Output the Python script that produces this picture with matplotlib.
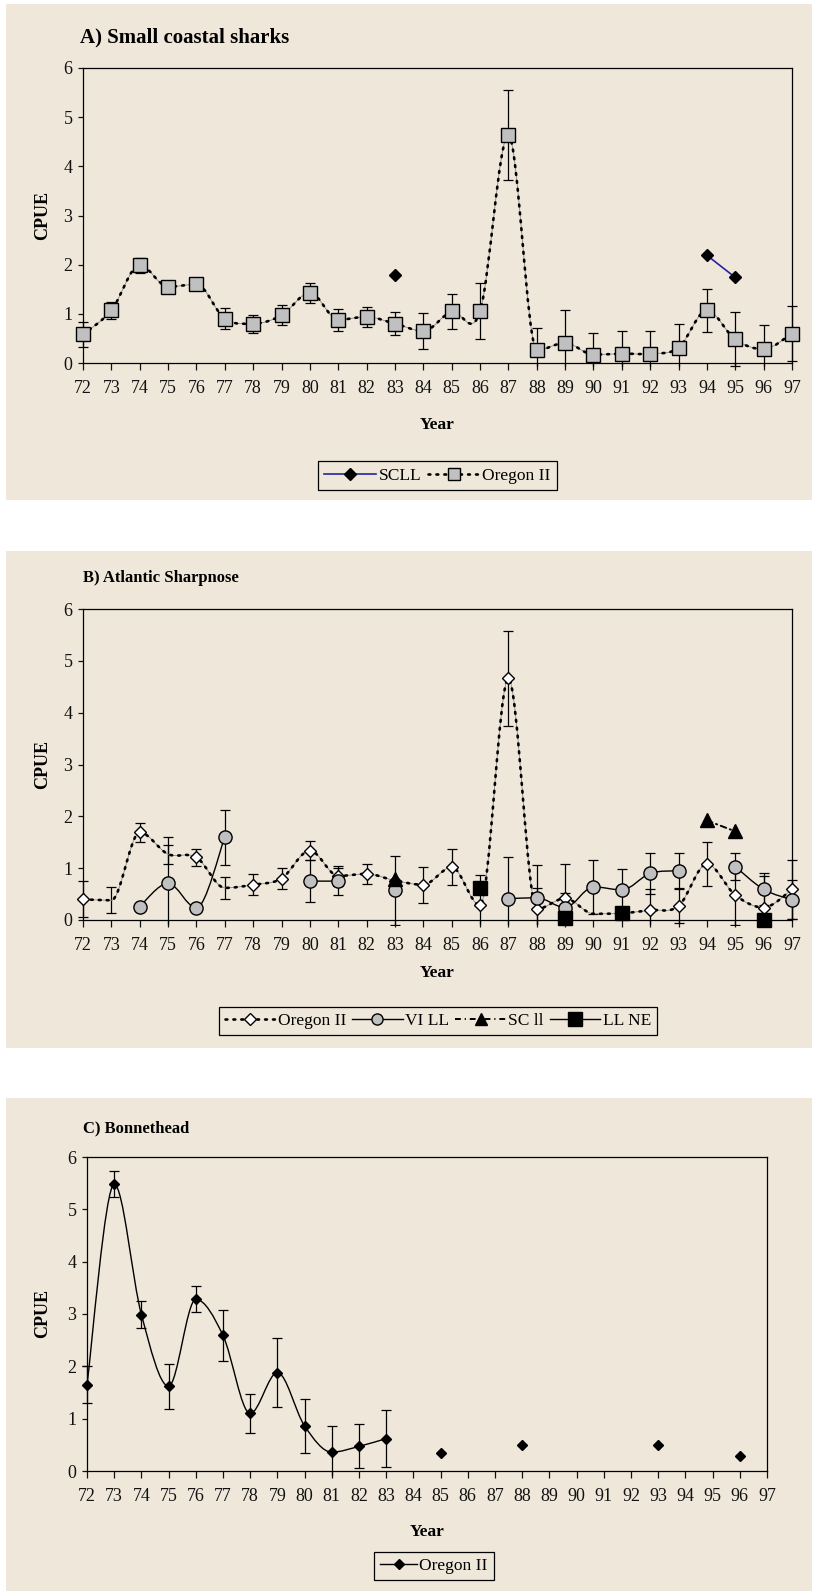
import numpy as np
import matplotlib
matplotlib.use("Agg")
import matplotlib.pyplot as plt
from matplotlib.lines import Line2D
from matplotlib.patches import Rectangle, PathPatch
from matplotlib.path import Path
from matplotlib.transforms import Bbox, TransformedBbox

nan = np.nan

# ---------------- data ----------------
years = list(range(72, 98))
year_labels = [str(y) for y in years]
cpue_ticks = [0, 1, 2, 3, 4, 5, 6]

# Panel A: Small coastal sharks
a_oregon = [0.58, 1.07, 1.99, 1.55, 1.60, 0.90, 0.80, 0.97, 1.43, 0.88, 0.94, 0.80, 0.65,
            1.05, 1.05, 4.64, 0.26, 0.41, 0.17, 0.19, 0.19, 0.31, 1.07, 0.48, 0.28, 0.60]
a_oregon_err = [0.25, 0.18, 0.15, 0.10, 0.05, 0.21, 0.18, 0.20, 0.20, 0.22, 0.20, 0.23, 0.36,
                0.35, 0.57, 0.92, 0.45, 0.66, 0.45, 0.46, 0.46, 0.49, 0.43, 0.55, 0.49, 0.55]
a_scll = [nan, nan, nan, nan, nan, nan, nan, nan, nan, nan, nan, 1.79, nan,
          nan, nan, nan, nan, nan, nan, nan, nan, nan, 2.19, 1.74, nan, nan]

# Panel B: Atlantic Sharpnose
b_oregon = [0.40, 0.38, 1.69, 1.27, 1.21, 0.62, 0.68, 0.80, 1.34, 0.85, 0.89, 0.76, 0.68,
            1.02, 0.28, 4.66, 0.21, 0.42, 0.12, 0.13, 0.19, 0.27, 1.08, 0.48, 0.24, 0.59]
b_oregon_err = [0.35, 0.25, 0.19, 0.18, 0.16, 0.21, 0.20, 0.20, 0.18, 0.20, 0.20, nan, 0.35,
                0.35, 0.58, 0.92, 0.40, 0.67, nan, 0.05, 0.40, 0.32, 0.42, 0.58, 0.61, 0.57]
b_oregon_no_marker = [73, 75, 77, 90]
b_vill = [nan, nan, 0.26, 0.71, 0.23, 1.60, nan, nan, 0.75, 0.75, nan, 0.57, nan,
          nan, nan, 0.41, 0.43, 0.24, 0.64, 0.58, 0.90, 0.95, nan, 1.03, 0.59, 0.39]
b_vill_err = [nan, nan, nan, 0.89, nan, 0.53, nan, nan, 0.41, 0.26, nan, 0.66, nan,
              nan, nan, 0.80, 0.63, 0.29, 0.52, 0.40, 0.40, 0.34, nan, 0.26, 0.31, 0.38]
b_scll = [nan, nan, nan, nan, nan, nan, nan, nan, nan, nan, nan, 0.80, nan,
          nan, nan, nan, nan, nan, nan, nan, nan, nan, 1.92, 1.71, nan, nan]
b_llne = [nan, nan, nan, nan, nan, nan, nan, nan, nan, nan, nan, nan, nan,
          nan, 0.61, nan, nan, 0.03, nan, 0.13, nan, nan, nan, nan, 0.00, nan]

# Panel C: Bonnethead
c_oregon = [1.65, 5.48, 2.99, 1.62, 3.28, 2.59, 1.10, 1.88, 0.86, 0.36, 0.47, 0.62, nan,
            0.34, nan, nan, 0.49, nan, nan, nan, nan, 0.49, nan, nan, 0.29, nan]
c_oregon_err = [0.35, 0.25, 0.25, 0.43, 0.25, 0.49, 0.38, 0.66, 0.51, 0.50, 0.42, 0.55, nan,
                nan, nan, nan, nan, nan, nan, nan, nan, nan, nan, nan, nan, nan]

# ---------------- style ----------------
BEIGE = "#EFE7DA"
GRAY = "#C0C0C0"
NAVY = "#2424A0"
plt.rcParams["font.family"] = ["Liberation Serif", "DejaVu Serif"]
plt.rcParams["axes.linewidth"] = 0.9

W, H = 814, 1591
fig = plt.figure(figsize=(W / 100, H / 100), dpi=100)
fig.patch.set_facecolor("white")

for (top, bot) in [(4, 500), (551, 1048), (1098, 1591)]:
    fig.patches.append(Rectangle((6 / W, 1 - bot / H), 806 / W, (bot - top) / H,
                                 transform=fig.transFigure, facecolor=BEIGE,
                                 edgecolor="none", zorder=-5))


def smooth_path(x, y):
    """Bezier path (spreadsheet-style smoothing) through contiguous runs of points."""
    x = np.asarray(x, float)
    y = np.asarray(y, float)
    verts, codes = [], []
    n = len(y)
    i = 0
    while i < n:
        if np.isnan(y[i]):
            i += 1
            continue
        j = i
        while j + 1 < n and not np.isnan(y[j + 1]):
            j += 1
        if j > i:
            P = np.column_stack([x[i:j + 1], y[i:j + 1]])
            m = len(P)
            tang = []
            for k in range(m):
                a = P[max(k - 1, 0)]; b = P[min(k + 1, m - 1)]
                t = (b - a) / 6.0
                if 0 < k < m - 1 and (P[k, 1] - a[1]) * (P[k, 1] - b[1]) > 0:
                    t = np.array([t[0], 0.0])  # local extremum: flat tangent
                tang.append(t)
            verts.append(P[0]); codes.append(Path.MOVETO)
            for k in range(m - 1):
                verts += [P[k] + tang[k], P[k + 1] - tang[k + 1], P[k + 1]]
                codes += [Path.CURVE4] * 3
        i = j + 1
    if not verts:
        return None
    return Path(np.array(verts), codes)


def draw_line(ax, x, y, **kw):
    p = smooth_path(x, y)
    if p is None:
        return
    ax.add_patch(PathPatch(p, fill=False, **kw))


def draw_err(ax, x, y, e):
    cont = ax.errorbar(x, y, yerr=e, fmt="none", ecolor="black", elinewidth=0.9,
                       capsize=3.6, capthick=0.9, zorder=2)
    box = TransformedBbox(Bbox([[71.0, -0.09], [98.0, 6.2]]), ax.transData)
    for art in list(cont.lines[1]) + list(cont.lines[2]):
        art.set_clip_box(box)


def setup_axes(ax, title, title_xy, title_size, ylab_y, year_y):
    ax.set_facecolor("none")
    ax.set_xlim(72, 97)
    ax.set_ylim(0, 6)
    ax.set_xticks(years)
    ax.set_xticklabels(year_labels)
    ax.set_yticks(cpue_ticks)
    ax.set_yticklabels([str(t) for t in cpue_ticks])
    ax.tick_params(axis="x", direction="out", length=5, width=0.9, pad=7.5,
                   labelsize=13, colors="#111111")
    ax.tick_params(axis="y", direction="out", length=3.6, width=0.9, pad=4,
                   labelsize=13, colors="#111111")
    for s in ax.spines.values():
        s.set_color("black")
    fig.text(title_xy[0] / W, 1 - title_xy[1] / H, title, fontsize=title_size,
             fontweight="bold", ha="left", va="center")
    x0, y0, w, h = ax.get_position().bounds
    fig.text(43 / W, 1 - ylab_y / H, "CPUE", fontsize=13, fontweight="bold",
             rotation=90, ha="center", va="center")
    fig.text(x0 + w / 2, 1 - year_y / H, "Year", fontsize=12.5, fontweight="bold",
             ha="center", va="center")


def legend(handles, labels, cx, cy, ncol, hl):
    lg = fig.legend(handles=handles, labels=labels, loc="center",
                    bbox_to_anchor=(cx / W, 1 - cy / H), bbox_transform=fig.transFigure,
                    ncol=ncol, fontsize=12.5, frameon=True, fancybox=False,
                    edgecolor="black", facecolor=BEIGE, framealpha=1,
                    handlelength=hl, handletextpad=0.15, columnspacing=0.35,
                    borderpad=0.35, borderaxespad=0)
    lg.get_frame().set_linewidth(0.9)
    return lg


DOT = (0, (0.7, 2.3))

# ---------------- Panel A ----------------
axA = fig.add_axes([83 / W, 1 - 363 / H, 709 / W, 295 / H])
setup_axes(axA, "A) Small coastal sharks", (80, 37), 15, 215, 425)
draw_err(axA, years, a_oregon, a_oregon_err)
draw_line(axA, years, a_oregon, edgecolor="#8a8a8a", linewidth=0.6, zorder=3)
draw_line(axA, years, a_oregon, edgecolor="black", linewidth=1.9, linestyle=DOT,
          capstyle="round", zorder=3)
axA.plot(years, a_oregon, linestyle="none", marker="s", ms=9.5, mfc=GRAY, mec="black",
         mew=1, zorder=4, clip_on=False)
draw_line(axA, years, a_scll, edgecolor=NAVY, linewidth=1.2, zorder=3)
axA.plot(years, a_scll, linestyle="none", marker="D", ms=6, mfc="black", mec="black",
         zorder=5, clip_on=False)
legend([Line2D([], [], color=NAVY, lw=1.2, marker="D", ms=6, mfc="black", mec="black"),
        Line2D([], [], color="black", lw=1.9, ls=DOT, dash_capstyle="round", marker="s",
               ms=8, mfc=GRAY, mec="black")],
       ["SCLL", "Oregon II"], 437.5, 475.5, 2, 3.0)

# ---------------- Panel B ----------------
axB = fig.add_axes([83 / W, 1 - 920 / H, 709 / W, 311 / H])
setup_axes(axB, "B) Atlantic Sharpnose", (83, 578), 12, 764, 973)
draw_err(axB, years, b_oregon, b_oregon_err)
draw_err(axB, years, b_vill, b_vill_err)
draw_line(axB, years, b_oregon, edgecolor="#8a8a8a", linewidth=0.6, zorder=3)
draw_line(axB, years, b_oregon, edgecolor="black", linewidth=1.9, linestyle=DOT,
          capstyle="round", zorder=3)
draw_line(axB, years, b_vill, edgecolor="black", linewidth=1.0, zorder=3)
draw_line(axB, years, b_scll, edgecolor="black", linewidth=1.4,
          linestyle=(0, (3, 2, 0.6, 2)), capstyle="round", zorder=3)
mk_years = [y for y in years if y not in b_oregon_no_marker]
mk_vals = [v for y, v in zip(years, b_oregon) if y not in b_oregon_no_marker]
axB.plot(mk_years, mk_vals, linestyle="none", marker="D", ms=6.5, mfc="white",
         mec="black", mew=1, zorder=4, clip_on=False)
axB.plot(years, b_vill, linestyle="none", marker="o", ms=9.5, mfc=GRAY, mec="black",
         mew=1, zorder=5, clip_on=False)
axB.plot(years, b_scll, linestyle="none", marker="^", ms=10, mfc="black", mec="black",
         zorder=6, clip_on=False)
axB.plot(years, b_llne, linestyle="none", marker="s", ms=9.5, mfc="black", mec="black",
         zorder=6, clip_on=False)
legend([Line2D([], [], color="black", lw=1.9, ls=DOT, dash_capstyle="round", marker="D",
               ms=6, mfc="white", mec="black"),
        Line2D([], [], color="black", lw=1.0, marker="o", ms=8, mfc=GRAY, mec="black"),
        Line2D([], [], color="black", lw=1.4, ls=(0, (3, 2, 0.6, 2)), marker="^", ms=8,
               mfc="black", mec="black"),
        Line2D([], [], color="black", lw=1.0, marker="s", ms=10, mfc="black", mec="black")],
       ["Oregon II", "VI LL", "SC ll", "LL NE"], 438, 1021, 4, 2.9)

# ---------------- Panel C ----------------
axC = fig.add_axes([87 / W, 1 - 1471 / H, 680 / W, 314 / H])
setup_axes(axC, "C) Bonnethead", (83, 1128), 12, 1313, 1532)
draw_err(axC, years, c_oregon, c_oregon_err)
draw_line(axC, years, c_oregon, edgecolor="black", linewidth=1.0, zorder=3)
axC.plot(years, c_oregon, linestyle="none", marker="D", ms=4.8, mfc="black", mec="black",
         zorder=4, clip_on=False)
legend([Line2D([], [], color="black", lw=1.0, marker="D", ms=5, mfc="black", mec="black")],
       ["Oregon II"], 434, 1566, 1, 2.1)

fig.savefig("out.png", dpi=100, facecolor="white")
